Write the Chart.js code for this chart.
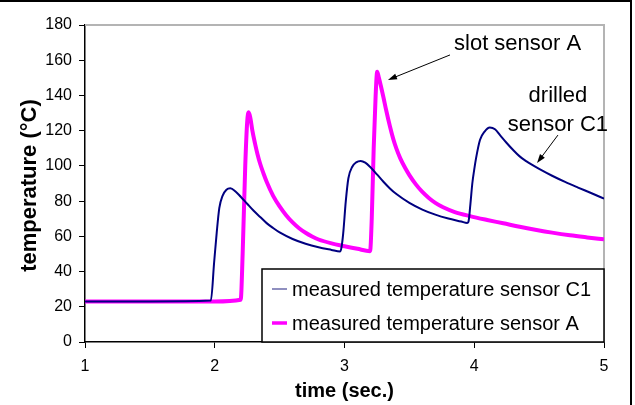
<!DOCTYPE html>
<html><head><meta charset="utf-8">
<script src="https://cdn.jsdelivr.net/npm/chart.js@4/dist/chart.umd.min.js"></script>
<style>html,body{margin:0;padding:0;background:#fff;}canvas{display:block;}</style>
</head><body>
<canvas id="c" width="635" height="405"></canvas>
<script>
// ---- data ----
const timeC1 = [1.0, 1.5, 1.97, 1.995, 2.015, 2.035, 2.06, 2.09, 2.12, 2.16, 2.2, 2.25, 2.3, 2.35, 2.4, 2.45, 2.5, 2.6, 2.7, 2.8, 2.9, 2.965,
  2.975, 2.99, 3.01, 3.03, 3.06, 3.09, 3.125, 3.16, 3.2, 3.25, 3.3, 3.35, 3.4, 3.5, 3.6, 3.7, 3.8, 3.9, 3.945,
  3.955, 3.97, 3.985, 4.0, 4.013, 4.044, 4.08, 4.12, 4.16, 4.2, 4.25, 4.3, 4.35, 4.4, 4.45, 4.5, 4.6, 4.7, 4.8, 4.9, 5.0];
const tempC1 = [23, 23, 23.5, 45, 62, 76, 83, 86.5, 87.3, 85.5, 82.5, 78.5, 74.5, 71, 67.5, 64.7, 62.2, 58.5, 55.8, 53.8, 52.3, 51.4,
  53, 61.7, 80, 93, 99.5, 102, 102.8, 101.8, 99.2, 95.2, 91, 87.2, 84, 79, 75.2, 72.3, 70.1, 68.4, 67.6,
  68.2, 78, 90, 98, 104, 114.7, 119.5, 121.8, 120.8, 117.3, 113, 109, 105.4, 102.7, 100.4, 98.3, 94.4, 90.9, 87.7, 84.6, 81.4];
const timeA = [1.0, 1.5, 2.0, 2.2, 2.215, 2.235, 2.25, 2.262, 2.275, 2.29, 2.31, 2.33, 2.35, 2.375, 2.4, 2.45, 2.5, 2.55, 2.6, 2.65, 2.7, 2.75, 2.8, 2.9, 3.0, 3.1, 3.197,
  3.21, 3.225, 3.24, 3.252, 3.265, 3.28, 3.3, 3.32, 3.35, 3.375, 3.4, 3.43, 3.47, 3.5, 3.55, 3.6, 3.65, 3.7, 3.76, 3.85, 3.967, 4.1, 4.224, 4.35, 4.48, 4.6, 4.738, 4.87, 5.0];
const tempA = [23, 23, 23, 24, 50, 100, 125, 130.5, 127, 120, 112.8, 106.5, 101.2, 95.8, 91, 83, 77, 72, 67.9, 64.6, 62, 59.9, 58.2, 56, 54.4, 52.9, 51.6,
  70, 110, 140, 153.5, 150, 145.5, 139, 132, 122.5, 115.5, 109.8, 104.3, 98.5, 94.8, 89.5, 85.2, 81.8, 79, 76.5, 73.8, 71.5, 69.3, 67.4, 65.4, 63.6, 62.1, 60.6, 59.4, 58.3];
const xTicks = [1, 2, 3, 4, 5];
const yTicks = [0, 20, 40, 60, 80, 100, 120, 140, 160, 180];
const seriesLabels = ['measured temperature sensor C1', 'measured temperature sensor A'];
const xTitle = 'time (sec.)';
const yTitle = 'temperature (°C)';
// annotation texts and their anchor points in data units (time, temperature)
const noteTexts = ['slot sensor A', 'drilled', 'sensor C1'];
const noteAt = [[3.844, 169.2], [4.645, 139.7], [4.645, 123.2]];
const arrowFrom = [[3.813, 163], [4.645, 117.5]];
const arrowTo = [[3.335, 148.8], [4.484, 101.6]];

const NAVY = '#000080', MAG = '#FF00FF';
const FONT = '"Liberation Sans", Arial, Helvetica, sans-serif';

const toPts = (xs, ys) => xs.map((x, i) => ({x, y: ys[i]}));

const extras = {
  id: 'extras',
  beforeDatasetsDraw(chart) {
    const ctx = chart.ctx, a = chart.chartArea;
    ctx.save();
    ctx.strokeStyle = '#b4b4b4';
    ctx.lineWidth = 2;
    ctx.beginPath();
    ctx.moveTo(a.left, a.top); ctx.lineTo(a.right, a.top); ctx.lineTo(a.right, a.bottom);
    ctx.stroke();
    ctx.restore();
  },
  afterDraw(chart) {
    const ctx = chart.ctx, a = chart.chartArea, xs = chart.scales.x, ys = chart.scales.y;
    ctx.save();
    // legend box
    const lx = a.right - 342, ly = a.bottom - 73, lw = 342, lh = 73;
    ctx.fillStyle = '#fff';
    ctx.fillRect(lx, ly, lw, lh);
    ctx.strokeStyle = '#000'; ctx.lineWidth = 1.5;
    ctx.strokeRect(lx, ly, lw, lh);
    const ds = chart.data.datasets;
    const rows = [20, 54];
    ds.forEach((d, i) => {
      ctx.strokeStyle = i === 0 ? '#6a6aaa' : d.borderColor;
      ctx.lineWidth = i === 0 ? 1.5 : 3.5;
      ctx.beginPath();
      ctx.moveTo(lx + 10, ly + rows[i]); ctx.lineTo(lx + 25, ly + rows[i]);
      ctx.stroke();
      ctx.fillStyle = '#000';
      ctx.font = '20px ' + FONT;
      ctx.textAlign = 'left'; ctx.textBaseline = 'alphabetic';
      ctx.fillText(d.label, lx + 30, ly + rows[i] + 7);
    });
    // axis titles
    ctx.fillStyle = '#000';
    ctx.font = 'bold 20px ' + FONT;
    ctx.textAlign = 'center'; ctx.textBaseline = 'alphabetic';
    ctx.fillText(xTitle, (a.left + a.right) / 2, 397);
    ctx.save();
    ctx.translate(36, (a.top + a.bottom) / 2 + 2);
    ctx.rotate(-Math.PI / 2);
    ctx.font = 'bold 22px ' + FONT;
    ctx.fillText(yTitle, 0, 0);
    ctx.restore();
    // annotations
    ctx.font = '22px ' + FONT;
    ctx.textBaseline = 'middle';
    ctx.textAlign = 'left';
    ctx.fillText(noteTexts[0], xs.getPixelForValue(noteAt[0][0]), ys.getPixelForValue(noteAt[0][1]));
    ctx.textAlign = 'center';
    ctx.fillText(noteTexts[1], xs.getPixelForValue(noteAt[1][0]), ys.getPixelForValue(noteAt[1][1]));
    ctx.fillText(noteTexts[2], xs.getPixelForValue(noteAt[2][0]), ys.getPixelForValue(noteAt[2][1]));
    arrowFrom.forEach((f, i) => {
      const x1 = xs.getPixelForValue(f[0]), y1 = ys.getPixelForValue(f[1]);
      const x2 = xs.getPixelForValue(arrowTo[i][0]), y2 = ys.getPixelForValue(arrowTo[i][1]);
      const ang = Math.atan2(y2 - y1, x2 - x1);
      ctx.strokeStyle = '#000'; ctx.lineWidth = 1;
      ctx.beginPath(); ctx.moveTo(x1, y1); ctx.lineTo(x2 - 6 * Math.cos(ang), y2 - 6 * Math.sin(ang)); ctx.stroke();
      ctx.fillStyle = '#000';
      ctx.beginPath();
      ctx.moveTo(x2, y2);
      ctx.lineTo(x2 - 9 * Math.cos(ang) + 3 * Math.sin(ang), y2 - 9 * Math.sin(ang) - 3 * Math.cos(ang));
      ctx.lineTo(x2 - 9 * Math.cos(ang) - 3 * Math.sin(ang), y2 - 9 * Math.sin(ang) + 3 * Math.cos(ang));
      ctx.closePath(); ctx.fill();
    });
    // outer frame (top and right)
    ctx.fillStyle = '#000';
    ctx.fillRect(0, 0, 632, 2);
    ctx.fillRect(630, 0, 2, 405);
    ctx.restore();
  }
};

new Chart(document.getElementById('c'), {
  type: 'line',
  data: {
    datasets: [
      {label: seriesLabels[0], data: toPts(timeC1, tempC1), borderColor: NAVY, borderWidth: 2, pointRadius: 0, cubicInterpolationMode: 'monotone', order: 1},
      {label: seriesLabels[1], data: toPts(timeA, tempA), borderColor: MAG, borderWidth: 4, pointRadius: 0, cubicInterpolationMode: 'monotone', order: 2}
    ]
  },
  options: {
    responsive: false,
    animation: false,
    devicePixelRatio: 1,
    layout: {padding: {top: 25, right: 31, left: 0, bottom: 0}},
    plugins: {legend: {display: false}, tooltip: {enabled: false}},
    scales: {
      x: {
        type: 'linear', min: 1, max: 5,
        afterBuildTicks: s => { s.ticks = xTicks.map(v => ({value: v})); },
        afterFit: s => { s.height = 63; },
        ticks: {color: '#000', padding: 9, font: {family: FONT, size: 16}, maxRotation: 0},
        grid: {drawOnChartArea: false, drawTicks: true, tickLength: 6, color: '#000'},
        border: {color: '#000', width: 1.5}
      },
      y: {
        min: 0, max: 180,
        afterBuildTicks: s => { s.ticks = yTicks.map(v => ({value: v})); },
        afterFit: s => { s.width = 85; },
        ticks: {color: '#000', padding: 7, font: {family: FONT, size: 16}},
        grid: {drawOnChartArea: false, drawTicks: true, tickLength: 6, color: '#000'},
        border: {color: '#000', width: 1.5}
      }
    }
  },
  plugins: [extras]
});
</script>
</body></html>
